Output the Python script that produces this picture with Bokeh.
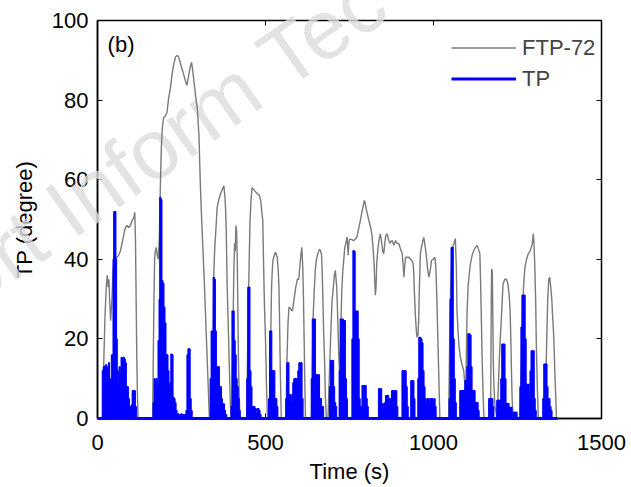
from bokeh.plotting import figure
from bokeh.models import (Range1d, LinearAxis, Legend, LegendItem, Label,
                          FixedTicker, ColumnDataSource)
from bokeh.core.properties import value
from bokeh.embed import file_html
from bokeh.resources import INLINE

# ---------------- data ----------------
ftp_time = [0, 15, 18, 22, 26, 29, 32, 34, 36, 39, 43, 46, 49, 53, 58, 63, 68, 73, 78, 83, 88, 93, 98, 103, 108, 111, 113, 115, 117, 119, 121,
            164, 166, 168, 170, 172, 175, 178, 181, 184, 187, 190, 193, 197, 202, 207, 212, 217, 222, 227, 232, 237, 241, 246, 251, 256, 261, 266, 271, 276, 280, 284, 288, 292, 297, 302, 306, 310, 314, 318, 322, 326, 330, 333,
            341, 344, 346, 349, 352, 356, 361, 366, 371, 376, 379, 381, 383, 386, 389, 392, 395, 397,
            400, 402, 404, 406, 408, 410, 412, 414, 416, 418, 420, 422, 424,
            444, 447, 450, 452, 454, 457, 460, 465, 470, 476, 482, 486, 489, 492, 494, 497, 500, 503, 506,
            512, 515, 518, 520, 522, 526, 530, 535, 538, 540, 542, 544, 547,
            561, 564, 567, 570, 575, 580, 585, 590, 595, 599, 604, 608, 611, 613, 615, 617, 619,
            637, 639, 641, 645, 648, 651, 656, 661, 664, 667, 669, 671, 673, 676, 678, 681,
            686, 689, 692, 695, 698, 702, 705, 708, 710, 712, 714, 716, 718, 720, 722, 724, 727, 730, 733, 736, 739, 743, 746, 748, 750, 756, 762, 767, 772, 778, 783, 787, 790, 794, 797, 800, 803, 807, 810, 813, 817, 820, 823, 825, 827, 829, 831, 835, 838, 842, 846, 849, 852, 855, 858, 862, 866, 870, 874, 877, 882, 887, 892, 897, 902, 907, 910, 912, 914, 917, 922, 927, 932, 936, 939, 941, 943, 946, 949, 951, 954, 956, 958, 961, 964, 968, 971, 974, 978, 982, 986, 990, 994, 999, 1004, 1007, 1010, 1013, 1016, 1019,
            1045, 1047, 1049, 1051, 1054, 1057, 1061, 1065, 1068, 1070, 1073, 1076, 1080, 1085, 1090, 1093, 1095, 1097, 1100, 1103, 1106, 1110, 1115, 1120, 1125, 1130, 1134, 1138, 1140, 1142, 1145, 1148, 1150,
            1170, 1171, 1172, 1173, 1175, 1176, 1177, 1178, 1180, 1183, 1189,
            1190, 1193, 1196, 1199, 1203, 1207, 1212, 1217, 1221, 1225, 1228, 1230, 1232, 1234, 1237,
            1257, 1260, 1264, 1268, 1272, 1277, 1282, 1287, 1291, 1294, 1297, 1299, 1301, 1304, 1306, 1309, 1312,
            1332, 1335, 1337, 1340, 1343, 1346, 1349, 1352, 1355, 1358, 1361, 1364, 1366, 1369]
ftp_speed = [0, 0, 12, 25, 33, 36, 33, 35, 30, 24.6, 30, 37, 39.7, 40, 40.5, 41, 42, 44, 46, 48, 48.5, 48, 48.5, 49.7, 50.5, 51.8, 45, 30, 15, 5, 0,
             0, 15, 30, 40, 42, 43, 41, 40, 45, 58, 68, 73, 75.7, 76, 77, 80.7, 83, 86.6, 89, 90.8, 91.2, 91, 89.5, 88, 86.6, 85, 83.7, 86, 88.3, 89.5, 87, 84, 81, 78, 71, 59, 50, 42, 34, 25, 16, 7, 0,
             0, 20, 36, 43, 47, 53, 55, 56.4, 57.5, 58.5, 56, 53, 48, 33, 24, 14, 5, 0,
             0, 15, 27, 38, 44, 42, 48.5, 47, 40, 25, 12, 5, 0,
             0, 18, 33, 42, 49.7, 55, 58, 57.5, 57, 56.5, 56, 54.5, 52, 49.7, 40, 28, 20, 8, 0,
             0, 18, 33, 37, 39.7, 41, 41.8, 40.5, 37, 33, 24, 12, 0,
             0, 15, 24, 28, 27.5, 27, 30, 33, 35, 35, 40, 43, 38, 30, 20, 9, 0,
             0, 12, 24, 32, 37, 39.7, 41.5, 42.6, 42, 41, 36, 29.6, 22, 14, 6, 0,
             0, 8, 16, 23, 29.6, 33, 36, 37.2, 35, 33, 28, 22, 16, 12, 15, 22, 32, 37, 40, 43, 44, 45.6, 41, 44, 45, 45, 44.7, 45, 45.6, 48, 50, 52, 53, 54.8, 54, 52.5, 51.5, 50, 49, 48, 46, 43, 39, 35, 31, 33, 39, 43, 45, 46.4, 44, 42, 41.4, 44, 46, 46.4, 45, 44, 44.5, 44.7, 43.5, 44.7, 44, 43.9, 42.5, 41.4, 38, 35.5, 38, 40.5, 40.5, 40.5, 40, 39.7, 39, 37, 32, 26, 22, 20.4, 21, 25, 33, 41.4, 43, 44.5, 45.5, 44, 41.4, 38, 35.5, 37, 39.7, 40, 40.5, 38, 30, 20, 10, 0,
             0, 12, 25, 33, 40, 43, 44, 45.2, 38, 27, 22, 18, 15.4, 13.5, 12, 9, 6, 12, 27, 33, 36, 39, 41, 42.2, 43, 43.5, 42.5, 41.4, 35, 27, 14, 5, 0,
             0, 15, 30, 37.6, 37, 30, 22, 14, 8, 3, 0,
             0, 8, 15, 20.4, 27, 33.8, 35, 35, 34, 31.3, 27, 20.4, 12, 5, 0,
             0, 10, 23, 33, 38, 40, 41.4, 42, 43, 44, 46.4, 44, 39.7, 30, 18.7, 8, 0,
             0, 12, 20, 30, 35, 35.5, 33, 30, 25, 20.4, 12, 5, 0, 0]

tp_time = [16, 19, 22, 25, 28, 31, 34, 37, 40, 43, 46, 48, 50, 53, 55, 57, 60, 63, 66, 69, 72, 75, 78, 81, 84, 87, 90, 93, 96, 99, 102, 105, 108, 111, 114,
           167, 170, 173, 176, 179, 182, 185, 187, 190, 193, 196, 199, 202, 205, 208, 211, 214, 217, 220, 223, 226, 229, 232, 235, 240, 245, 250, 255, 260, 265, 268, 271, 274, 277, 280,
           337, 340, 343, 346, 349, 352, 355, 358, 361, 364, 367, 370, 373, 376, 379, 383,
           399, 402, 405, 408, 411, 414, 417, 420, 423,
           446, 449, 452, 455, 458, 461, 464, 467, 470, 473, 476, 479, 482, 485,
           511, 514, 517, 520, 523, 526, 529, 532, 535,
           562, 565, 568, 571, 574, 577, 580, 583, 586, 589, 592, 595, 598, 601, 604, 607, 610,
           638, 641, 644, 647, 650, 653, 656, 659, 662, 665, 668, 671,
           692, 695, 698, 701, 704, 707, 710,
           721, 724, 727, 730, 733, 736, 739, 742,
           759, 762, 765, 768, 771, 774, 777, 780, 783, 786, 789, 792, 795, 798, 801, 804,
           838, 841, 844, 847, 850, 853, 856, 859, 862, 865, 868, 871, 874, 877, 880, 883, 886, 889, 892,
           908, 911, 914, 917, 920, 923, 934, 937, 940, 943, 955, 958, 961, 964, 967, 970, 973, 976, 979, 982, 985, 988, 991, 994, 997, 1000, 1003, 1006,
           1048, 1051, 1054, 1057, 1060, 1063, 1066,
           1080, 1083, 1086, 1089, 1092, 1095, 1098, 1101, 1104, 1107, 1110, 1113, 1116, 1119, 1122, 1125, 1128, 1131, 1134,
           1166, 1169, 1172, 1175, 1178, 1190, 1193, 1196, 1199, 1202, 1205, 1208, 1211, 1214, 1217, 1220, 1223, 1226, 1229, 1232, 1238, 1241, 1244, 1247,
           1259, 1262, 1265, 1268, 1271, 1274, 1277, 1280, 1283, 1286, 1289, 1292, 1295, 1298, 1301, 1304,
           1327, 1330, 1333, 1336, 1339, 1342, 1345, 1348, 1351]
tp_value = [12, 13, 13, 13.5, 12, 13, 14, 10, 9.5, 16, 16, 40, 52, 52, 40, 20, 12, 9.5, 13, 11, 15.4, 15, 15.4, 15, 14, 8, 8, 5, 3, 3, 3.4, 7, 7, 7, 3,
            4, 10, 9, 10, 8, 19.6, 30, 55.6, 55, 34.7, 34, 28, 24, 16, 16, 12, 8, 9, 16.2, 16, 5.4, 5, 4, 2, 1.2, 1, 1.2, 1, 1, 2, 16, 17.5, 17.5, 5, 2,
            10, 22, 22, 35.5, 35, 22, 13, 13, 13, 8, 8, 5, 3.7, 3.7, 2, 1,
            3, 27, 27, 19.6, 16, 10, 8, 5, 2,
            10, 33, 33, 12, 8, 3, 3, 3, 2.5, 1, 2.5, 2.5, 2, 1,
            5, 22, 22, 12, 12, 12, 5, 5, 3,
            5, 14, 14, 6, 6, 4, 6, 9, 10, 10, 10, 10, 12, 14, 14, 14, 5,
            10, 25, 25, 25, 11, 11, 11, 11, 5, 5, 3, 3,
            8, 14.6, 14.6, 14.6, 8, 4, 3,
            12, 25, 25, 25, 24.6, 24.6, 10, 5,
            20, 42.2, 42, 27, 27, 27, 20, 5, 3, 3, 8.3, 8.3, 8.3, 8.3, 5, 3,
            7.5, 7.5, 7.5, 3.7, 3.7, 2, 4, 5.8, 5.8, 5.8, 3, 5, 4, 7, 7, 7, 7, 7, 3,
            12, 12, 12, 12, 8, 3, 9.5, 9.5, 9.5, 5, 10, 20.4, 20.4, 20, 19, 12, 8, 5, 4, 5, 5, 4, 5, 5, 5, 4.5, 5, 3,
            5, 30, 43, 43, 20, 10, 4,
            7, 7, 7, 7, 7, 9.5, 9.5, 13, 21.3, 21.3, 21, 13, 7, 7, 7, 4, 4, 4, 2,
            5, 5, 5, 5, 3, 4.6, 4.6, 4.6, 4.6, 10, 18.7, 18.7, 18.7, 10, 3.8, 3.8, 3.8, 2.8, 2.8, 2.8, 1.6, 1.6, 1.6, 1.6,
            8, 23, 31, 31, 31, 20, 8.6, 8.6, 8.6, 5, 12, 17, 17, 17, 5, 2,
            5, 13.7, 13.7, 13.7, 8, 5, 5, 3, 2]

cycle_start = 0
cycle_end = 1369
x_ticks = [0, 500, 1000, 1500]
y_ticks = [0, 20, 40, 60, 80, 100]
series_names = ["FTP-72", "TP"]
panel_tag = "(b)"
watermark = "ort Inform Tec"

FONT = "Liberation Sans"
FS = "22px"
GRAY = "#7a7a7a"
BLUE = "#0000ff"
LVL = "annotation"   # draw data in creation order above the faint watermark

p = figure(width=631, height=487, output_backend="svg", toolbar_location=None,
           x_range=Range1d(0, 1500), y_range=Range1d(0, 100),
           min_border_left=97, min_border_right=30, min_border_top=20, min_border_bottom=69,
           background_fill_color="white", border_fill_color="white")
p.grid.visible = False
p.outline_line_color = "black"
p.outline_line_width = 1.5

# faint watermark (cut by the picture's edges, as in the source), drawn below the data
p.text(x=[-420], y=[33.2], text=[watermark], angle=35, angle_units="deg",
       text_font=value(FONT), text_font_size="84px", text_color="#dcdcdc",
       text_alpha=0.8, text_baseline="alphabetic", level=LVL)

src_ftp = ColumnDataSource(dict(t=ftp_time, v=ftp_speed))
src_tp = ColumnDataSource(dict(t=tp_time, v=tp_value))

gray_r = p.line("t", "v", source=src_ftp, line_color=GRAY, line_width=1.4, level=LVL)
p.vbar(x="t", top="v", bottom=0, width=3.8, source=src_tp,
       fill_color=BLUE, line_color=BLUE, line_width=1, level=LVL)
base_r = p.line([cycle_start, cycle_end], [0, 0], line_color=BLUE, line_width=3.2,
                level=LVL)

for ax in (p.xaxis[0], p.yaxis[0]):
    ax.major_label_text_font = FONT
    ax.major_label_text_font_size = FS
    ax.major_label_text_color = "black"
    ax.axis_label_text_font = FONT
    ax.axis_label_text_font_size = FS
    ax.axis_label_text_font_style = "normal"
    ax.axis_label_text_color = "black"
    ax.major_tick_in = 5
    ax.major_tick_out = 0
    ax.minor_tick_in = 0
    ax.minor_tick_out = 0
    ax.axis_line_width = 1.5
    ax.axis_line_color = "black"
    ax.major_tick_line_color = "black"

p.xaxis[0].ticker = FixedTicker(ticks=x_ticks)
p.yaxis[0].ticker = FixedTicker(ticks=y_ticks)
p.xaxis[0].axis_label = "Time (s)"
p.yaxis[0].axis_label = "TP (degree)"
p.xaxis[0].major_label_standoff = 16
p.xaxis[0].axis_label_standoff = 6
p.yaxis[0].major_label_standoff = 9
p.yaxis[0].axis_label_standoff = 12

top_ax = LinearAxis(ticker=FixedTicker(ticks=x_ticks), major_label_text_font_size="8px",
                    major_label_text_alpha=0, major_label_text_color=None,
                    major_tick_in=5, major_tick_out=0, minor_tick_in=0, minor_tick_out=0,
                    axis_line_color=None, major_tick_line_color="black")
right_ax = LinearAxis(ticker=FixedTicker(ticks=y_ticks), major_label_text_font_size="8px",
                      major_label_text_alpha=0, major_label_text_color=None,
                      major_tick_in=5, major_tick_out=0, minor_tick_in=0, minor_tick_out=0,
                      axis_line_color=None, major_tick_line_color="black")
p.add_layout(top_ax, "above")
p.add_layout(right_ax, "right")

p.add_layout(Label(x=30, y=94, text=panel_tag, text_font=FONT, text_font_size=FS,
                   text_baseline="middle", text_color="black"))

legend = Legend(items=[LegendItem(label=series_names[0], renderers=[gray_r]),
                       LegendItem(label=series_names[1], renderers=[base_r])],
                location=(354, 324), border_line_color=None, background_fill_alpha=0,
                label_text_font=FONT, label_text_font_size=FS, glyph_width=65,
                glyph_height=31, label_height=31, label_standoff=6, spacing=0,
                padding=0, margin=0)
p.add_layout(legend)

open("out.html", "w").write(file_html(p, INLINE))
